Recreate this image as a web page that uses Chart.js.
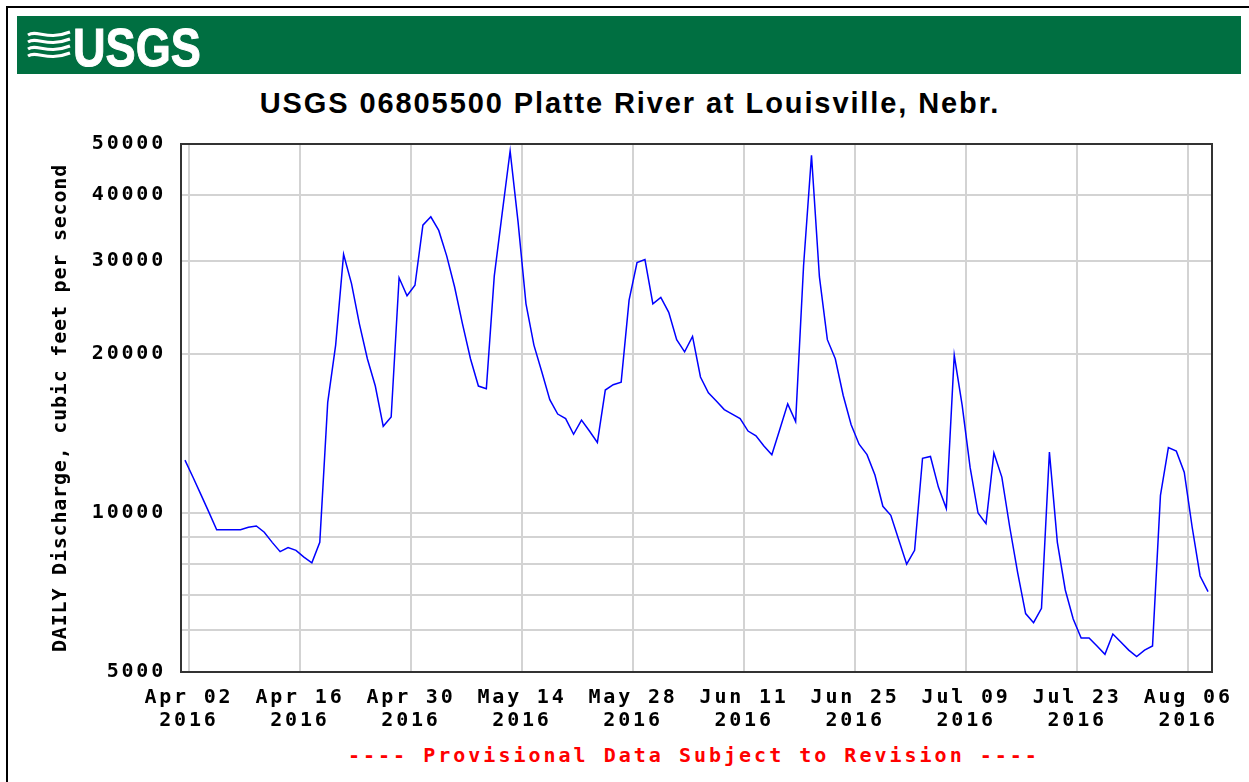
<!DOCTYPE html>
<html lang="en">
<head>
<meta charset="UTF-8">
<title>USGS 06805500 Platte River at Louisville, Nebr.</title>
<script src="https://cdn.jsdelivr.net/npm/chart.js"></script>
<style>
    html, body { margin: 0; padding: 0; background: #fff; }
    body { width: 1249px; height: 782px; position: relative; overflow: hidden; }
    .frame {
        position: absolute; left: 6px; top: 6px; width: 1300px; height: 800px;
        border-left: 2px solid #000; border-top: 2px solid #000;
    }
    .banner {
        position: absolute; left: 17px; top: 16px; width: 1224px; height: 58px;
        background: #006f41;
    }
    .banner svg { position: absolute; left: 10px; top: 13px; }
    .logo {
        position: absolute; left: 56px; top: 0; line-height: 58px;
        font: bold 54px "Liberation Sans Narrow", "Liberation Sans", sans-serif;
        color: #fff; transform: scaleX(0.835); transform-origin: left center;
        -webkit-text-stroke: 1px #fff;
    }
    .title {
        position: absolute; left: 0; width: 1260px; top: 87px;
        text-align: center; line-height: 29px; letter-spacing: 1.9px;
        font: bold 29px "Liberation Sans", Arial, sans-serif; color: #000;
    }
    .footer {
        position: absolute; left: 348px; top: 743px; line-height: 24px;
        font: bold 20px "DejaVu Sans Mono", monospace; letter-spacing: 3px;
        color: #ff0000; white-space: pre;
    }
    #chart { position: absolute; left: 0; top: 0; }
</style>
</head>
<body>
<div class="frame"></div>
<div class="banner">
    <svg width="44" height="34" viewBox="0 0 44 34">
        <g fill="none" stroke="#fff" stroke-width="3">
            <path d="M1,6 C10,0 20,12 43,3"/>
            <path d="M1,13 C10,7 20,19 43,10"/>
            <path d="M1,20 C10,14 20,26 43,17"/>
            <path d="M1,27 C10,21 20,33 43,24"/>
        </g>
    </svg>
    <div class="logo">USGS</div>
</div>
<div class="title">USGS 06805500 Platte River at Louisville, Nebr.</div>
<div class="footer">---- Provisional Data Subject to Revision ----</div>
<canvas id="chart" width="1249" height="782"></canvas>

<script>
// daily mean discharge, cfs, Apr 01 .. Aug 08 2016
const dailyFlow = [
    12600, 11700, 10850, 10050, 9300, 9300, 9300, 9300, 9400, 9450,
    9200, 8800, 8450, 8600, 8500, 8250, 8050, 8800, 16200, 20800,
    30900, 27200, 22800, 19600, 17400, 14600, 15200, 27900, 25800, 27000,
    35100, 36400, 34300, 30700, 26800, 22800, 19600, 17400, 17200, 28100,
    37000, 48500, 35600, 24900, 20800, 18500, 16400, 15400, 15100, 14100,
    15000, 14300, 13600, 17100, 17500, 17700, 25300, 29800, 30200, 24900,
    25600, 24000, 21300, 20200, 21600, 18100, 16900, 16300, 15700, 15400,
    15100, 14300, 14000, 13400, 12900, 14400, 16100, 14900, 29400, 47600,
    28000, 21300, 19600, 16700, 14700, 13500, 12900, 11800, 10300, 9900,
    8900, 8000, 8500, 12700, 12800, 11200, 10200, 19900, 16000, 12200,
    10000, 9550, 13000, 11700, 9400, 7700, 6450, 6200, 6600, 13050,
    8800, 7150, 6300, 5800, 5800, 5600, 5400, 5900, 5700, 5500,
    5350, 5500, 5600, 10800, 13300, 13100, 11950, 9400, 7600, 7100
];

// x axis in days since Apr 01 2016
const xTickDays = [1, 15, 29, 43, 57, 71, 85, 99, 113, 127];
const xTickLabels = [
    ['Apr 02', '2016'], ['Apr 16', '2016'], ['Apr 30', '2016'], ['May 14', '2016'],
    ['May 28', '2016'], ['Jun 11', '2016'], ['Jun 25', '2016'], ['Jul 09', '2016'],
    ['Jul 23', '2016'], ['Aug 06', '2016']
];

const yTickValues = [5000, 6000, 7000, 8000, 9000, 10000, 20000, 30000, 40000, 50000];
const yTickLabels = ['5000', '', '', '', '', '10000', '20000', '30000', '40000', '50000'];

const monoFont = { family: 'DejaVu Sans Mono', weight: 'bold', size: 20 };

// letter spacing for the wide bitmap-like fonts, plus the plot frame
const spacingAndFrame = {
    id: 'spacingAndFrame',
    beforeDraw(chart) { chart.ctx.letterSpacing = '0.8px'; },
    beforeDatasetsDraw(chart) { chart.ctx.letterSpacing = '2.8px'; },
    afterDraw(chart) {
        const { ctx, chartArea: a } = chart;
        ctx.save();
        ctx.strokeStyle = '#333';
        ctx.lineWidth = 2;
        ctx.strokeRect(a.left, a.top, a.right - a.left, a.bottom - a.top);
        ctx.restore();
    }
};

new Chart(document.getElementById('chart'), {
    type: 'line',
    data: {
        datasets: [{
            data: dailyFlow.map((v, i) => ({ x: i + 0.5, y: v })),
            borderColor: '#0000ff',
            borderWidth: 1.5,
            pointRadius: 0,
            tension: 0,
            fill: false
        }]
    },
    options: {
        responsive: false,
        animation: false,
        layout: { padding: { left: 0, right: 37, top: 144, bottom: 12 } },
        plugins: { legend: { display: false }, tooltip: { enabled: false } },
        scales: {
            x: {
                type: 'linear', min: 0, max: 130,
                afterBuildTicks: s => { s.ticks = xTickDays.map(v => ({ value: v })); },
                afterFit: s => { s.height = 98; },
                ticks: {
                    autoSkip: false, maxRotation: 0, padding: 14, z: 1, color: '#000',
                    font: { ...monoFont, lineHeight: 1.15 },
                    callback: (v, i) => xTickLabels[i]
                },
                grid: { color: '#d3d3d3', lineWidth: 2, drawTicks: false },
                border: { display: false }
            },
            y: {
                type: 'logarithmic', min: 5000, max: 50000,
                afterBuildTicks: s => { s.ticks = yTickValues.map(v => ({ value: v })); },
                afterFit: s => { s.width = 181; },
                ticks: {
                    padding: 15, z: 1, color: '#000', font: monoFont,
                    callback: (v, i) => yTickLabels[i]
                },
                grid: { color: '#d3d3d3', lineWidth: 2, drawTicks: false },
                border: { display: false },
                title: {
                    display: true, color: '#000', font: monoFont,
                    text: 'DAILY Discharge, cubic feet per second',
                    padding: { top: 49, bottom: 0 }
                }
            }
        }
    },
    plugins: [spacingAndFrame]
});
</script>
</body>
</html>
